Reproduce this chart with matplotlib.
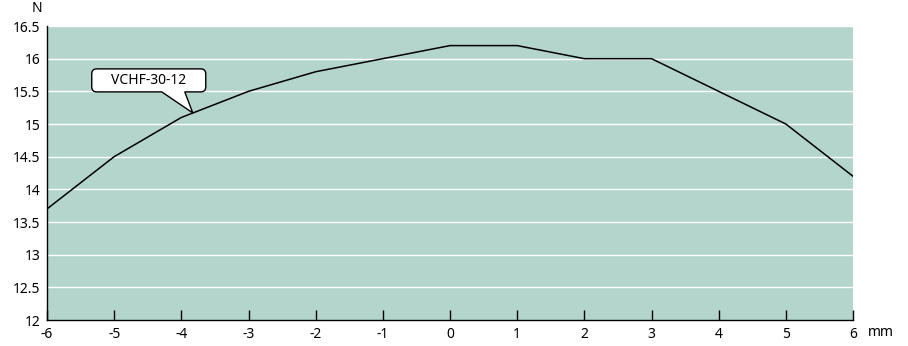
import matplotlib
matplotlib.use("Agg")
import matplotlib.pyplot as plt
from matplotlib.path import Path
from matplotlib.patches import PathPatch
from matplotlib.transforms import Affine2D, ScaledTranslation

plt.rcParams['font.family'] = ['Noto Sans', 'DejaVu Sans']

x_mm = [-6, -5, -4, -3, -2, -1, 0, 1, 2, 3, 4, 5, 6]
force_n = [13.7, 14.5, 15.1, 15.5, 15.8, 16.0, 16.2, 16.2, 16.0, 16.0, 15.5, 15.0, 14.2]
y_ticks = [12, 12.5, 13, 13.5, 14, 14.5, 15, 15.5, 16, 16.5]
y_tick_labels = ["12", "12.5", "13", "13.5", "14", "14.5", "15", "15.5", "16", "16.5"]
series_label = "VCHF-30-12"
callout_x = -3.83
callout_y = 15.17

W, H = 908, 346
fig = plt.figure(figsize=(W / 100, H / 100), dpi=100)
ax = fig.add_axes([47 / W, 26 / H, 806 / W, 294 / H])
ax.set_facecolor('#b3d5cb')
ax.set_xlim(-6, 6)
ax.set_ylim(12, 16.5)

for yv in y_ticks[1:]:
    ax.axhline(yv, color='white', lw=1.0, zorder=1)

ax.plot(x_mm, force_n, color='black', lw=1.1, zorder=3)

for s in ['top', 'right']:
    ax.spines[s].set_visible(False)
for s in ['left', 'bottom']:
    ax.spines[s].set_color('black')
    ax.spines[s].set_linewidth(1.0)

ax.set_xticks(x_mm)
ax.set_xticklabels([str(v) for v in x_mm], fontsize=10)
ax.tick_params(axis='x', direction='in', length=7, width=1, pad=5, color='black')
ax.set_yticks(y_ticks)
ax.set_yticklabels(y_tick_labels, fontsize=10)
ax.tick_params(axis='y', length=0, pad=5)

fig.text(37 / W, 1 - 9 / H, "N", ha='center', va='center', fontsize=10)
fig.text(881 / W, 1 - 333 / H, "mm", ha='center', va='center', fontsize=10)

# speech bubble callout (pixel offsets relative to the tip)
r = 5
L, R, B, T = -101, 13, 21, 44
pb_l, pb_r = -31, -8
verts = [
    (L + r, B), (pb_l, B), (0, 0), (pb_r, B), (R - r, B),
    (R, B), (R, B + r),
    (R, T - r),
    (R, T), (R - r, T),
    (L + r, T),
    (L, T), (L, T - r),
    (L, B + r),
    (L, B), (L + r, B),
    (L + r, B),
]
codes = [Path.MOVETO, Path.LINETO, Path.LINETO, Path.LINETO, Path.LINETO,
         Path.CURVE3, Path.CURVE3,
         Path.LINETO,
         Path.CURVE3, Path.CURVE3,
         Path.LINETO,
         Path.CURVE3, Path.CURVE3,
         Path.LINETO,
         Path.CURVE3, Path.CURVE3,
         Path.CLOSEPOLY]
trans = Affine2D().scale(1 / 100.) + fig.dpi_scale_trans + ScaledTranslation(callout_x, callout_y, ax.transData)
patch = PathPatch(Path(verts, codes), facecolor='white', edgecolor='black', lw=1.0, transform=trans, zorder=5, clip_on=False)
ax.add_patch(patch)
ax.text(-44, 32.5, series_label, transform=trans, ha='center', va='center', fontsize=10, zorder=6)

fig.savefig("out.png", dpi=100)
